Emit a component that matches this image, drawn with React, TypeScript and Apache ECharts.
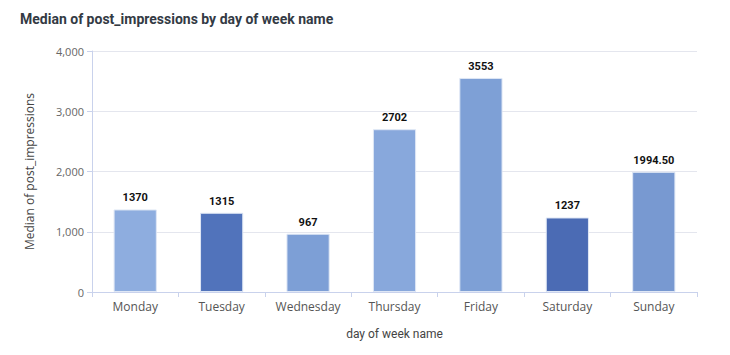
import React, { useEffect, useRef } from "react";
import * as echarts from "echarts";

const categories = ["Monday", "Tuesday", "Wednesday", "Thursday", "Friday", "Saturday", "Sunday"];
const values = [1370, 1315, 967, 2702, 3553, 1237, 1994.5];
const valueLabels = ["1370", "1315", "967", "2702", "3553", "1237", "1994.50"];
const barColors = ["#8eaddf", "#5173bb", "#7d9fd6", "#88a8dc", "#7ea0d6", "#4b6bb4", "#7899d1"];
const yTicks = [0, 1000, 2000, 3000, 4000];

export default function App() {
  const ref = useRef<HTMLDivElement>(null);
  useEffect(() => {
    if (!ref.current) return;
    const chart = echarts.init(ref.current, undefined, { renderer: "svg" });
    chart.setOption({
      animation: false,
      title: {
        text: "Median of post_impressions by day of week name",
        left: 12,
        top: 4,
        padding: 0,
        textStyle: { fontFamily: "Roboto", fontSize: 14, fontWeight: "bold", color: "#333a44" },
      },
      grid: { left: 84, right: 33, top: 43, bottom: 63, containLabel: false },
      xAxis: {
        type: "category",
        data: categories,
        name: "day of week name",
        nameLocation: "middle",
        nameGap: 36,
        nameTextStyle: { fontFamily: "Roboto", fontSize: 12, color: "#444" },
        axisLine: { lineStyle: { color: "#c9d2ec" } },
        axisTick: { show: true, alignWithLabel: false, lineStyle: { color: "#c9d2ec" } },
        axisLabel: { fontFamily: "Open Sans", fontSize: 12, color: "#555", margin: 8 },
      },
      yAxis: {
        type: "value",
        min: yTicks[0],
        max: yTicks[yTicks.length - 1],
        interval: 1000,
        name: "Median of post_impressions",
        nameLocation: "middle",
        nameGap: 57,
        nameTextStyle: { fontFamily: "Open Sans", fontSize: 12, color: "#444" },
        axisLine: { show: true, lineStyle: { color: "#c9d2ec" } },
        axisTick: { show: true, lineStyle: { color: "#c9d2ec" } },
        axisLabel: {
          fontFamily: "Open Sans",
          fontSize: 11,
          color: "#666",
          formatter: (v: number) => v.toLocaleString("en-US"),
        },
        splitLine: { lineStyle: { color: "#e4e6ee" } },
      },
      series: [
        {
          type: "bar",
          barWidth: "50%",
          data: values.map((v, i) => ({
            value: v,
            itemStyle: { color: barColors[i], borderColor: "#dfe7f5", borderWidth: 1 },
          })),
          label: {
            show: true,
            position: "top",
            distance: 6,
            fontFamily: "Roboto",
            fontSize: 11,
            fontWeight: "bold",
            color: "#111",
            formatter: (p: any) => valueLabels[p.dataIndex],
          },
        },
      ],
    });
    return () => chart.dispose();
  }, []);
  return <div ref={ref} style={{ width: 722, height: 347 }} />;
}
